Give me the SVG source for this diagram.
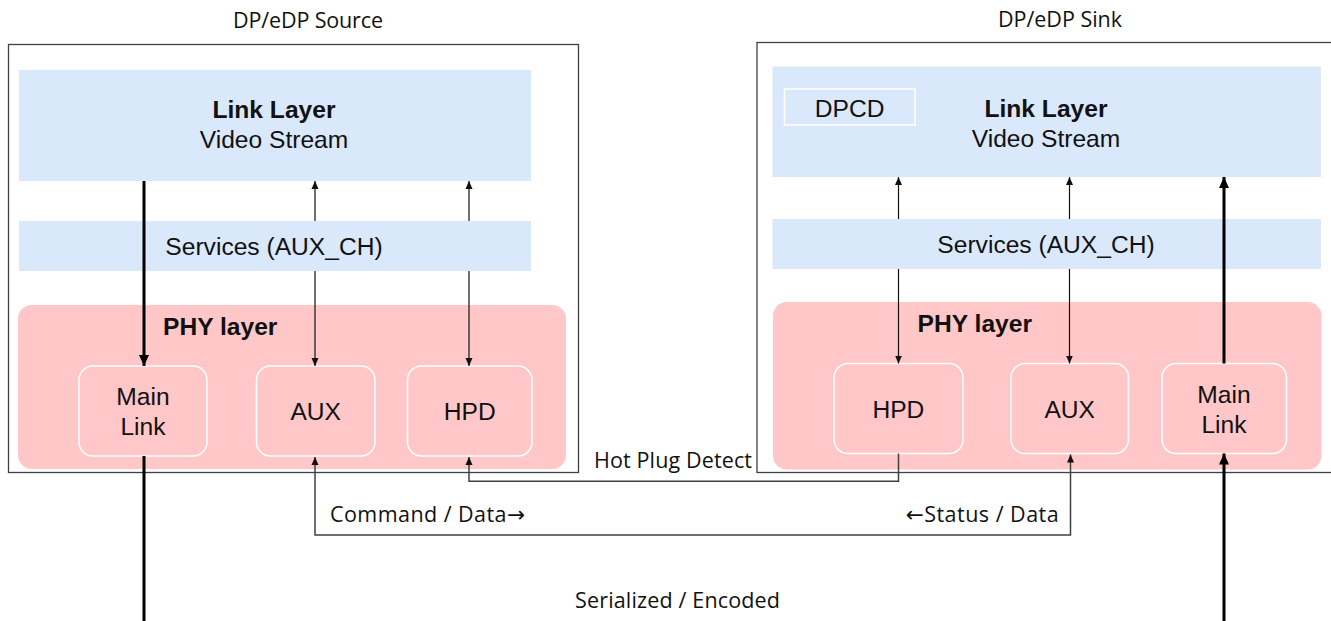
<svg xmlns="http://www.w3.org/2000/svg" width="1331" height="621" viewBox="0 0 1331 621">
<style>
.outer{fill:#fff;stroke:#404040;stroke-width:1.3}
.link{fill:#dae8fc}
.phy{fill:#ffc7c7}
.blk{fill:none;stroke:#fff;stroke-width:1.5}
.ar{font-family:"Liberation Sans",Arial,sans-serif;font-size:24.6px;fill:#111;text-anchor:middle}
.st{text-anchor:start}
.b{font-weight:bold}
.lb{font-family:"Open Sans","DejaVu Sans",sans-serif;font-size:21.5px;fill:#111}
.mid{text-anchor:middle}
.thin{stroke:#111;stroke-width:1.2;fill:none}
.thick{stroke:#000;stroke-width:3;fill:none}
.wire{stroke:#404040;stroke-width:1.5;fill:none}
</style>
<defs>
<marker id="ah" markerUnits="userSpaceOnUse" markerWidth="9" markerHeight="8" refX="8" refY="4" orient="auto-start-reverse"><path d="M0,0.5 L8,4 L0,7.5 z" fill="#111"/></marker>
<marker id="ahk" markerUnits="userSpaceOnUse" markerWidth="12" markerHeight="11" refX="11" refY="5.5" orient="auto-start-reverse"><path d="M0,0.5 L11,5.5 L0,10.5 z" fill="#000"/></marker>
</defs>

<g id="source">
<text class="lb mid" x="308" y="28" textLength="150">DP/eDP Source</text>
<rect class="outer" x="8.5" y="44.5" width="570" height="428"/>
<g id="src-link-layer">
<rect class="link" x="19" y="70" width="512" height="111"/>
<text class="ar b" x="274" y="118">Link Layer</text>
<text class="ar" x="274" y="148">Video Stream</text>
</g>
<g id="src-services">
<rect class="link" x="19" y="221" width="512" height="50"/>
<text class="ar" x="274" y="255">Services (AUX_CH)</text>
</g>
<g id="src-phy">
<rect class="phy" x="18" y="305" width="548" height="164" rx="14"/>
<text class="ar b st" x="163" y="335">PHY layer</text>
</g>
<g id="src-mainlink">
<rect class="blk" x="79" y="366" width="128" height="90" rx="14"/>
<text class="ar" x="143" y="405">Main</text>
<text class="ar" x="143" y="435">Link</text>
</g>
<g id="src-aux">
<rect class="blk" x="256.5" y="366" width="118.5" height="90" rx="14"/>
<text class="ar" x="315.7" y="420">AUX</text>
</g>
<g id="src-hpd">
<rect class="blk" x="407.5" y="366" width="124.5" height="90" rx="14"/>
<text class="ar" x="469.8" y="420">HPD</text>
</g>
</g>

<g id="sink">
<text class="lb mid" x="1060" y="27" textLength="124">DP/eDP Sink</text>
<rect class="outer" x="757" y="42.5" width="620" height="430"/>
<g id="snk-link-layer">
<rect class="link" x="772.5" y="66.5" width="548.5" height="110.5"/>
<text class="ar b" x="1046" y="116.5">Link Layer</text>
<text class="ar" x="1046" y="146.5">Video Stream</text>
</g>
<g id="snk-dpcd">
<rect class="link" x="784.5" y="89" width="130.5" height="36" style="stroke:#fff;stroke-width:1.5"/>
<text class="ar" x="849.6" y="116.5">DPCD</text>
</g>
<g id="snk-services">
<rect class="link" x="772.5" y="219" width="548.5" height="50"/>
<text class="ar" x="1046" y="253">Services (AUX_CH)</text>
</g>
<g id="snk-phy">
<rect class="phy" x="773" y="302" width="548.5" height="167.5" rx="14"/>
<text class="ar b st" x="917.6" y="331.7">PHY layer</text>
</g>
<g id="snk-hpd">
<rect class="blk" x="834" y="363.5" width="129" height="90" rx="14"/>
<text class="ar" x="898.4" y="418.3">HPD</text>
</g>
<g id="snk-aux">
<rect class="blk" x="1011" y="363.5" width="117.5" height="90" rx="14"/>
<text class="ar" x="1069.7" y="418.3">AUX</text>
</g>
<g id="snk-mainlink">
<rect class="blk" x="1162" y="363.5" width="124.5" height="90" rx="14"/>
<text class="ar" x="1224" y="402.7">Main</text>
<text class="ar" x="1224" y="432.7">Link</text>
</g>
</g>

<g id="connectors">
<line class="thick" x1="144" y1="181" x2="144" y2="366" marker-end="url(#ahk)"/>
<line class="thick" x1="144" y1="456" x2="144" y2="621"/>
<line class="thin" x1="315" y1="221" x2="315" y2="181" marker-end="url(#ah)"/>
<line class="thin" x1="315" y1="271" x2="315" y2="366" marker-end="url(#ah)"/>
<line class="thin" x1="469" y1="221" x2="469" y2="181" marker-end="url(#ah)"/>
<line class="thin" x1="469" y1="271" x2="469" y2="366" marker-end="url(#ah)"/>
<line class="thin" x1="898.5" y1="219" x2="898.5" y2="177" marker-end="url(#ah)"/>
<line class="thin" x1="898.5" y1="269" x2="898.5" y2="363.5" marker-end="url(#ah)"/>
<line class="thin" x1="1069.5" y1="219" x2="1069.5" y2="177" marker-end="url(#ah)"/>
<line class="thin" x1="1069.5" y1="269" x2="1069.5" y2="363.5" marker-end="url(#ah)"/>
<line class="thick" x1="1224" y1="363.5" x2="1224" y2="177" marker-end="url(#ahk)"/>
<line class="thick" x1="1224" y1="621" x2="1224" y2="453.5" marker-end="url(#ahk)"/>
<path class="wire" d="M315,457 V535 H1070.5 V454.5" marker-start="url(#ah)" marker-end="url(#ah)"/>
<path class="wire" d="M469,457 V481.3 H898.5 V453.5" marker-start="url(#ah)"/>
<text class="lb" x="594" y="468" textLength="158">Hot Plug Detect</text>
<text class="lb" x="330" y="521.7" textLength="195">Command / Data→</text>
<text class="lb" x="905.7" y="521.7" textLength="153">←Status / Data</text>
<text class="lb" x="575" y="608" textLength="205">Serialized / Encoded</text>
</g>
</svg>
